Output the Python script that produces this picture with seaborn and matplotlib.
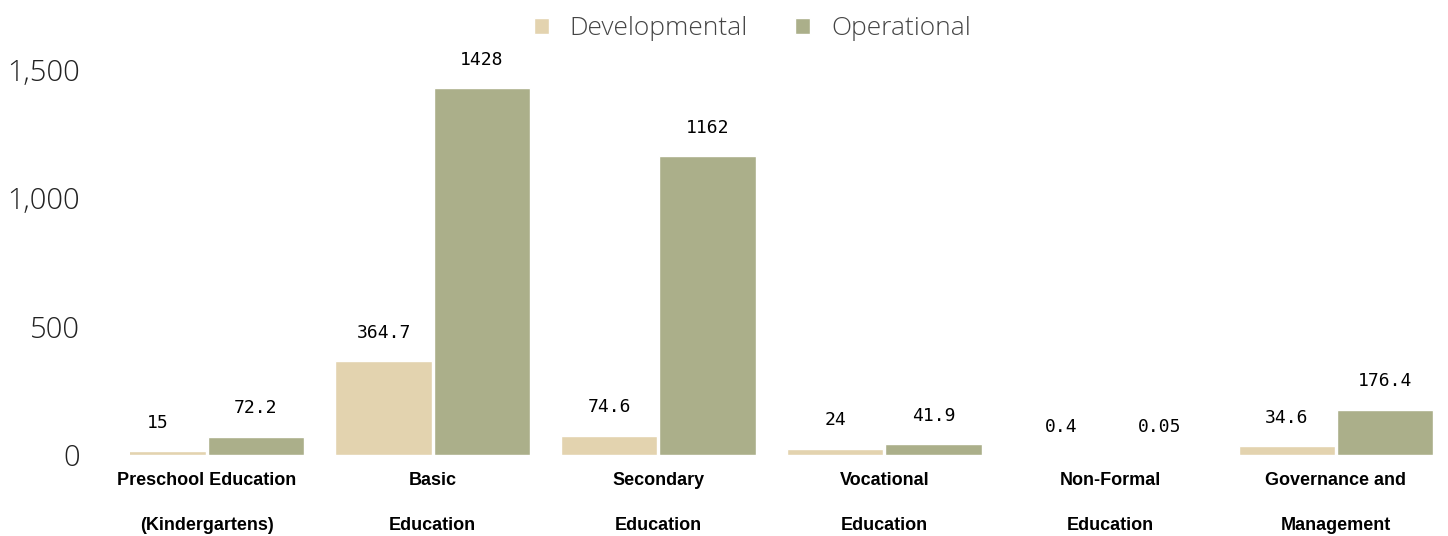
import pandas as pd
import matplotlib.pyplot as plt
import seaborn as sns

# Budget by education sector
sectors = ['Preschool Education\n(Kindergartens)', 'Basic\nEducation', 'Secondary\nEducation',
           'Vocational\nEducation', 'Non-Formal\nEducation', 'Governance and\nManagement']
developmental = [15, 364.7, 74.6, 24, 0.4, 34.6]
operational = [72.2, 1428, 1162, 41.9, 0.05, 176.4]
dev_labels = ['15', '364.7', '74.6', '24', '0.4', '34.6']
op_labels = ['72.2', '1428', '1162', '41.9', '0.05', '176.4']

df = pd.DataFrame({
    'Sector': sectors * 2,
    'Value': developmental + operational,
    'Type': ['Developmental'] * 6 + ['Operational'] * 6,
})

sns.set_style('white')
fig = plt.figure(figsize=(14.48, 5.36), dpi=100)
ax = fig.add_axes([0.0898, 0.151, 0.903, 0.767])

sns.barplot(data=df, x='Sector', y='Value', hue='Type', order=sectors,
            palette=['#E3D3AF', '#ABAF8A'], saturation=1, width=0.87, gap=0.02, ax=ax)

# value labels
for cont, labs in zip(ax.containers, [dev_labels, op_labels]):
    ax.bar_label(cont, labels=labs, padding=14, fontsize=13, color='black',
                 family='DejaVu Sans Mono')

ax.set_xlim(-0.34, 5.45)
ax.set_ylim(0, 1600)
ax.set_yticks([0, 500, 1000, 1500])
ax.set_yticklabels(['0', '500', '1,000', '1,500'], fontsize=21, color='#222222',
                   family='Open Sans', fontweight=300)
ax.set_xticks(range(6))
ax.set_xticklabels(sectors, fontsize=13, fontweight='bold', linespacing=3.2,
                   family='Liberation Sans', color='black')
ax.tick_params(axis='y', length=0, pad=36)
ax.tick_params(axis='x', length=0, pad=12)
ax.set_xlabel('')
ax.set_ylabel('')
sns.despine(ax=ax, left=True, bottom=True)

handles, lbls = ax.get_legend_handles_labels()
ax.legend(handles, lbls, loc='upper center', bbox_to_anchor=(0.476, 1.125), ncol=2,
          frameon=False, handlelength=0.55, handleheight=0.55, columnspacing=1.8,
          handletextpad=0.8, prop={'family': 'Open Sans', 'size': 19, 'weight': 300},
          labelcolor='#444444')

fig.savefig('out.png', dpi=100)
